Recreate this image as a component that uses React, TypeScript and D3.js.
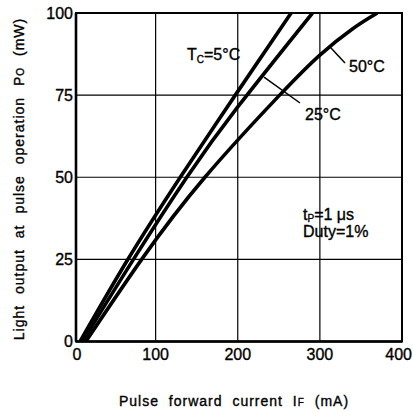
import React from "react";
import * as d3 from "d3";

// ---- data ----
const xTicks = [0, 100, 200, 300, 400];
const yTicks = [0, 25, 50, 75, 100];

// Pulse forward current IF (mA) vs light output Po (mW)
const tc5: [number, number][] = [
  [8, 0], [65, 24.5], [130, 50], [197, 75], [265, 100],
];
const tc25: [number, number][] = [
  [11, 0], [73, 25], [138, 50], [200, 71.4], [291, 100],
];
const tc50: [number, number][] = [
  [15, 0], [83, 25], [160, 50], [251, 75], [300, 87.2], [340, 95.2], [370, 100],
];
const seriesList = [tc5, tc25, tc50];

const W = 413;
const H = 413;
const plotLeft = 76;
const plotRight = 402;
const plotTop = 13;
const plotBottom = 341.5;

const x = d3.scaleLinear().domain([0, 400]).range([73.5, 402]);
const y = d3.scaleLinear().domain([0, 100]).range([plotBottom, plotTop]);

const line = d3
  .line<[number, number]>()
  .x((d) => x(d[0]))
  .y((d) => y(d[1]))
  .curve(d3.curveNatural);

const FONT = "'Liberation Sans', Arial, Helvetica, sans-serif";
const txt = { stroke: "#000", strokeWidth: 0.35 } as const;

export default function App() {
  return (
    <svg
      width={W}
      height={H}
      viewBox={`0 0 ${W} ${H}`}
      style={{ position: "fixed", left: 0, top: 0, background: "#fff" }}
      fontFamily={FONT}
    >
      <rect x={0} y={0} width={W} height={H} fill="#fff" />
      {/* grid */}
      {xTicks.slice(1, -1).map((t) => (
        <line key={"gx" + t} x1={x(t)} x2={x(t)} y1={plotTop} y2={plotBottom} stroke="#000" strokeWidth={1.2} />
      ))}
      {yTicks.slice(1, -1).map((t) => (
        <line key={"gy" + t} x1={plotLeft} x2={plotRight} y1={y(t)} y2={y(t)} stroke="#000" strokeWidth={1.2} />
      ))}
      {/* frame */}
      <rect x={plotLeft} y={plotTop} width={plotRight - plotLeft} height={plotBottom - plotTop} fill="none" stroke="#000" strokeWidth={2} />
      <line x1={plotLeft} x2={plotLeft} y1={plotTop} y2={plotBottom} stroke="#000" strokeWidth={2.6} />
      <line x1={plotLeft} x2={plotRight} y1={plotBottom} y2={plotBottom} stroke="#000" strokeWidth={2.6} />

      {/* curves */}
      <defs>
        <clipPath id="clip">
          <rect x={plotLeft} y={plotTop} width={plotRight - plotLeft} height={plotBottom - plotTop} />
        </clipPath>
      </defs>
      <g clipPath="url(#clip)">
        {seriesList.map((s, i) => (
          <path key={i} d={line(s) || ""} fill="none" stroke="#000" strokeWidth={3.6} strokeLinecap="butt" />
        ))}
      </g>

      {/* y tick labels */}
      {yTicks.map((t) => (
        <text key={"yl" + t} x={73} y={y(t) + 5.5} textAnchor="end" fontSize={16} {...txt}>
          {t}
        </text>
      ))}
      {/* x tick labels */}
      {xTicks.map((t, i) => (
        <text
          key={"xl" + t}
          x={i === xTicks.length - 1 ? 412 : Math.max(x(t), plotLeft + 1)}
          y={360}
          textAnchor={i === xTicks.length - 1 ? "end" : "middle"}
          fontSize={16}
          {...txt}
        >
          {t}
        </text>
      ))}

      {/* annotations */}
      <text x={187} y={60} fontSize={16} {...txt}>
        T<tspan fontSize={10} dy={3}>C</tspan>
        <tspan dy={-3}>=5°C</tspan>
      </text>
      <line x1={x(232)} y1={y(80.5)} x2={300} y2={103} stroke="#000" strokeWidth={1.5} />
      <text x={305} y={120} fontSize={16} {...txt}>25°C</text>
      <line x1={x(313)} y1={y(89.5)} x2={345} y2={63} stroke="#000" strokeWidth={1.5} />
      <text x={349} y={72} fontSize={16} {...txt}>50°C</text>
      <text x={303} y={220} fontSize={16} {...txt}>
        t<tspan fontSize={10} dy={2}>P</tspan>
        <tspan dy={-2}>=1 μs</tspan>
      </text>
      <text x={303} y={237} fontSize={16} {...txt}>Duty=1%</text>

      {/* axis titles */}
      <text x={234} y={406} textAnchor="middle" fontSize={14} letterSpacing={1} wordSpacing={5} {...txt}>
        Pulse forward current I<tspan fontSize={10}>F</tspan> (mA)
      </text>
      <text
        transform={`translate(24, 179) rotate(-90)`}
        textAnchor="middle"
        fontSize={14}
        letterSpacing={1}
        wordSpacing={6}
        {...txt}
      >
        Light output at pulse operation P<tspan fontSize={10}>O</tspan> (mW)
      </text>
    </svg>
  );
}
